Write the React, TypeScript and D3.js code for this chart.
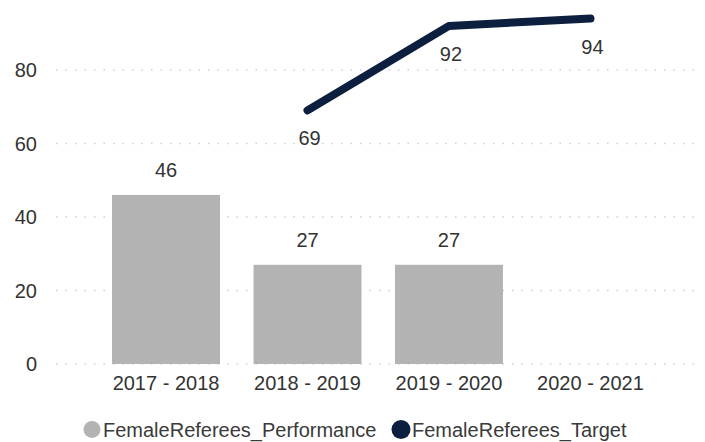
import React from "react";
import * as d3 from "d3";

const categories = ["2017 - 2018", "2018 - 2019", "2019 - 2020", "2020 - 2021"];
const performance: (number | null)[] = [46, 27, 27, null];
const target: (number | null)[] = [null, 69, 92, 94];
const yTicks = [0, 20, 40, 60, 80];
const legendLabels = ["FemaleReferees_Performance", "FemaleReferees_Target"];

const W = 705;
const H = 442;
const BAR = "#b3b3b3";
const NAVY = "#0c1f3f";
const FONT = "'Liberation Sans', Arial, sans-serif";
const FS = 20;

export default function App() {
  const x = d3.scaleBand<string>().domain(categories).range([78.5, 678]).paddingInner(0.237).paddingOuter(0.237);
  const y = d3.scaleLinear().domain([0, 100]).range([364, -3.5]);
  const bw = x.bandwidth();
  const cx = (c: string) => (x(c) as number) + bw / 2;

  const lineData = categories
    .map((c, i) => ({ c, v: target[i] }))
    .filter((d) => d.v !== null) as { c: string; v: number }[];
  const line = d3
    .line<{ c: string; v: number }>()
    .x((d) => cx(d.c))
    .y((d) => y(d.v));

  return (
    <svg width={W} height={H} style={{ position: "absolute", left: 0, top: 0, background: "#fff" }}>
      {yTicks.map((t) => (
        <g key={t}>
          <line x1={56} x2={695} y1={y(t)} y2={y(t)} stroke="#cfcfcf" strokeWidth={1.5} strokeDasharray="1.5 8" />
          <text x={37} y={y(t)} dy="0.35em" textAnchor="end" fontFamily={FONT} fontSize={FS} fill="#333">
            {t}
          </text>
        </g>
      ))}
      {categories.map((c, i) =>
        performance[i] !== null ? (
          <g key={c}>
            <rect x={x(c)} y={y(performance[i] as number)} width={bw} height={y(0) - y(performance[i] as number)} fill={BAR} />
            <text x={cx(c)} y={y(performance[i] as number) - 18} textAnchor="middle" fontFamily={FONT} fontSize={FS} fill="#333">
              {performance[i]}
            </text>
          </g>
        ) : null
      )}
      {categories.map((c) => (
        <text key={c} x={cx(c)} y={390} textAnchor="middle" fontFamily={FONT} fontSize={FS} fill="#333">
          {c}
        </text>
      ))}
      <path d={line(lineData) || ""} fill="none" stroke={NAVY} strokeWidth={8} strokeLinejoin="round" strokeLinecap="round" />
      {lineData.map((d) => (
        <text key={d.c} x={cx(d.c) + 2} y={y(d.v) + 35} textAnchor="middle" fontFamily={FONT} fontSize={FS} fill="#333">
          {d.v}
        </text>
      ))}
      <g>
        <circle cx={92} cy={429.5} r={8.5} fill={BAR} />
        <text x={103} y={437} fontFamily={FONT} fontSize={FS} fill="#3a3a3a">
          {legendLabels[0]}
        </text>
        <circle cx={401} cy={429.5} r={9.5} fill={NAVY} />
        <text x={412} y={437} fontFamily={FONT} fontSize={FS} fill="#3a3a3a">
          {legendLabels[1]}
        </text>
      </g>
    </svg>
  );
}
